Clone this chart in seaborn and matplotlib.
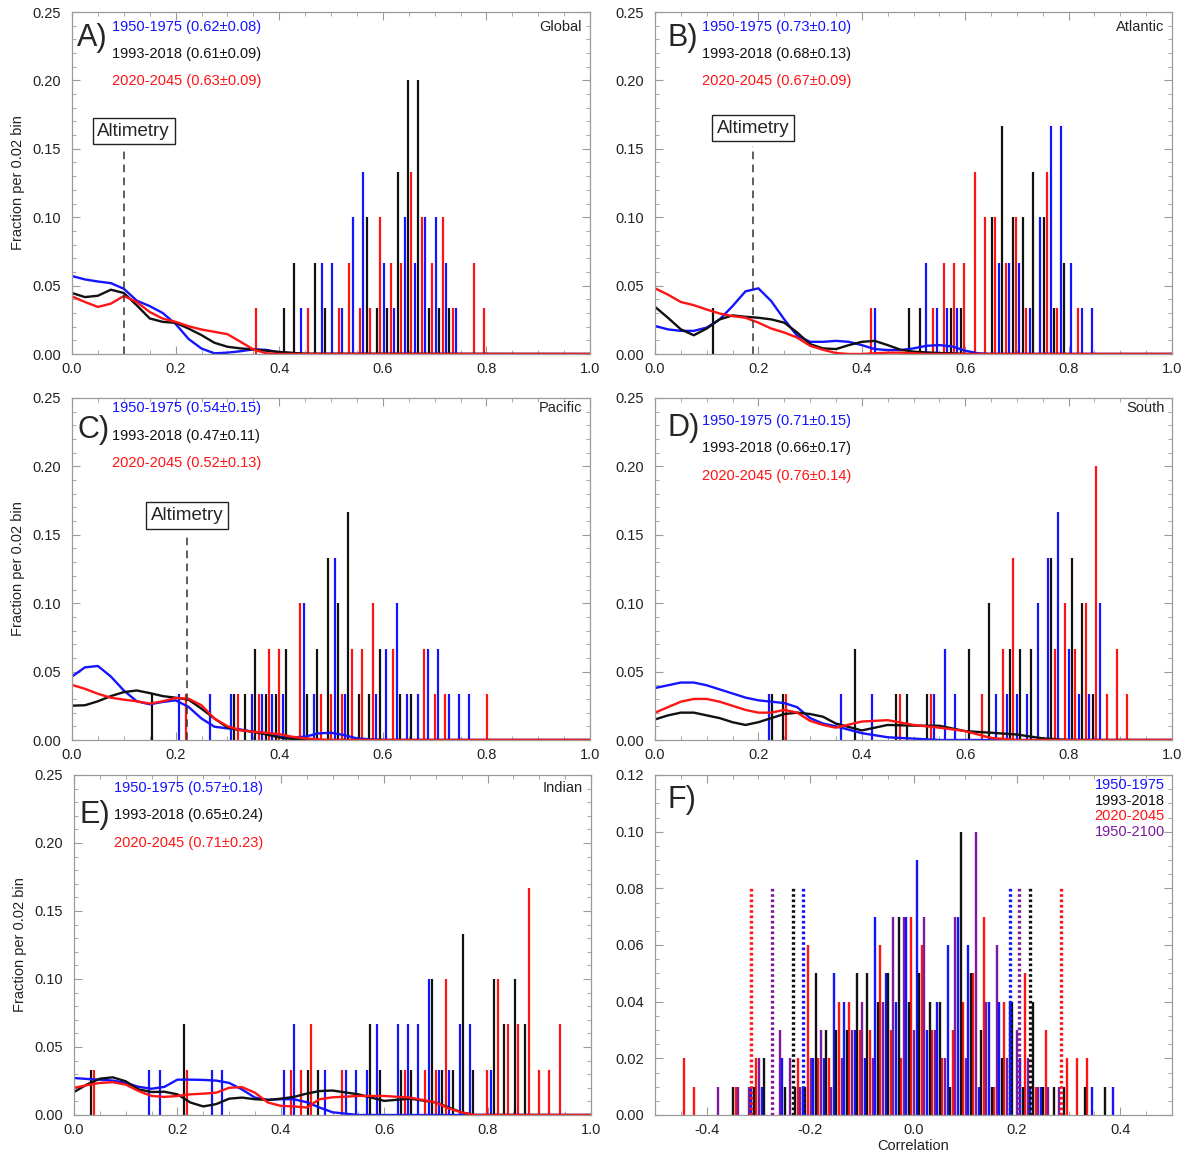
import matplotlib
matplotlib.use("Agg")
import matplotlib.pyplot as plt
from matplotlib.ticker import MultipleLocator
import seaborn as sb

sb.set_style("ticks")
plt.rcParams['font.family'] = ['Liberation Sans', 'DejaVu Sans']

N_MODELS = 30      # models per period (panels A-E)
N_F = 100          # samples in panel F
BIN = 0.02

BLUE, BLACK, RED, PURPLE = "#1414ff", "#111111", "#ff1414", "#7d1a9e"
PERIODS = ["1950-1975", "1993-2018", "2020-2045"]

# ---------------- A) Global ----------------
a_blue_bins = [0.44, 0.48, 0.50, 0.52, 0.54, 0.56, 0.60, 0.62, 0.64, 0.66, 0.68, 0.70, 0.72, 0.74]
a_blue_n = [1, 2, 2, 1, 3, 4, 2, 1, 3, 2, 3, 3, 2, 1]
a_black_bins = [0.40, 0.42, 0.46, 0.48, 0.56, 0.58, 0.60, 0.62, 0.64, 0.66, 0.68, 0.70, 0.72]
a_black_n = [1, 2, 2, 1, 3, 1, 1, 4, 6, 6, 1, 1, 1]
a_red_bins = [0.34, 0.44, 0.50, 0.52, 0.54, 0.56, 0.58, 0.60, 0.62, 0.64, 0.66, 0.68, 0.70, 0.72, 0.76, 0.78]
a_red_n = [1, 1, 1, 2, 1, 1, 3, 2, 2, 4, 3, 2, 3, 1, 2, 1]
a_curve_x = [0, 0.025, 0.05, 0.075, 0.1, 0.125, 0.15, 0.175, 0.2, 0.225, 0.25, 0.275, 0.3,
             0.325, 0.35, 0.375, 0.4, 0.45, 1.0]
a_curve_blue = [0.057, 0.0545, 0.053, 0.0518, 0.0477, 0.039, 0.035, 0.030, 0.022, 0.011, 0.004,
                0.0005, 0.001, 0.002, 0.0034, 0.003, 0.0012, 0.0, 0.0]
a_curve_black = [0.0446, 0.0416, 0.0426, 0.047, 0.0446, 0.0356, 0.026, 0.0235, 0.0228, 0.0186,
                 0.0138, 0.0082, 0.0053, 0.0041, 0.0034, 0.0024, 0.0015, 0.0002, 0.0]
a_curve_red = [0.0421, 0.038, 0.0344, 0.0368, 0.0424, 0.038, 0.0307, 0.0259, 0.0235, 0.0203,
               0.0179, 0.0162, 0.0145, 0.009, 0.0034, 0.0005, 0.0, 0.0, 0.0]
a_stats = ["(0.62±0.08)", "(0.61±0.09)", "(0.63±0.09)"]

# ---------------- B) Atlantic ----------------
b_blue_bins = [0.42, 0.52, 0.54, 0.56, 0.58, 0.66, 0.68, 0.70, 0.72, 0.74, 0.76, 0.78, 0.80, 0.82, 0.84]
b_blue_n = [1, 2, 1, 1, 1, 2, 2, 2, 1, 3, 5, 5, 2, 1, 1]
b_black_bins = [0.10, 0.48, 0.50, 0.56, 0.58, 0.64, 0.66, 0.68, 0.70, 0.72, 0.74, 0.76, 0.78]
b_black_n = [1, 1, 1, 1, 1, 3, 5, 3, 3, 4, 3, 1, 2]
b_red_bins = [0.40, 0.52, 0.54, 0.56, 0.58, 0.60, 0.62, 0.64, 0.66, 0.68, 0.70, 0.74, 0.76, 0.80]
b_red_n = [1, 1, 2, 2, 2, 4, 3, 3, 2, 3, 1, 4, 1, 1]
b_curve_x = [0, 0.025, 0.05, 0.075, 0.1, 0.125, 0.15, 0.175, 0.2, 0.225, 0.25, 0.275, 0.3,
             0.325, 0.35, 0.375, 0.4, 0.425, 0.45, 0.475, 0.5, 0.525, 0.55, 0.575, 0.6,
             0.625, 0.65, 1.0]
b_curve_blue = [0.0205, 0.018, 0.0169, 0.0169, 0.0193, 0.0253, 0.035, 0.0458, 0.048, 0.0386,
                0.0253, 0.0133, 0.0089, 0.0089, 0.0096, 0.0089, 0.0065, 0.0036, 0.0029, 0.0029,
                0.0041, 0.006, 0.0065, 0.0055, 0.0024, 0.0005, 0.0, 0.0]
b_curve_black = [0.0345, 0.0265, 0.018, 0.0137, 0.0186, 0.0253, 0.0282, 0.0272, 0.0265, 0.0253,
                 0.0229, 0.0157, 0.0072, 0.0041, 0.0036, 0.0065, 0.0089, 0.0096, 0.0065, 0.0031,
                 0.0017, 0.0012, 0.0007, 0.0005, 0.0, 0.0, 0.0, 0.0]
b_curve_red = [0.048, 0.0434, 0.038, 0.0357, 0.0325, 0.0296, 0.0277, 0.0265, 0.0229, 0.0186,
               0.0157, 0.012, 0.006, 0.0031, 0.0007, 0.0, 0.0, 0.0005, 0.001, 0.001,
               0.0005, 0.0, 0.0, 0.0, 0.0, 0.0, 0.0, 0.0]
b_stats = ["(0.73±0.10)", "(0.68±0.13)", "(0.67±0.09)"]

# ---------------- C) Pacific ----------------
c_blue_bins = [0.20, 0.26, 0.30, 0.34, 0.36, 0.38, 0.40, 0.44, 0.46, 0.50, 0.52, 0.58, 0.60,
               0.62, 0.64, 0.66, 0.68, 0.70, 0.72, 0.74, 0.76]
c_blue_n = [1, 1, 1, 1, 1, 1, 1, 3, 1, 4, 1, 1, 2, 3, 1, 1, 2, 2, 1, 1, 1]
c_black_bins = [0.14, 0.30, 0.32, 0.34, 0.36, 0.38, 0.40, 0.44, 0.46, 0.48, 0.50, 0.52, 0.54,
                0.56, 0.58, 0.62, 0.64]
c_black_n = [1, 1, 1, 2, 1, 1, 2, 1, 2, 4, 3, 5, 1, 1, 2, 1, 1]
c_red_bins = [0.20, 0.30, 0.34, 0.36, 0.38, 0.42, 0.46, 0.48, 0.50, 0.52, 0.54, 0.56, 0.60,
              0.66, 0.68, 0.70, 0.78]
c_red_n = [1, 1, 1, 2, 2, 3, 1, 1, 1, 2, 2, 3, 2, 2, 1, 1, 1]
c_curve_x = [0, 0.025, 0.05, 0.075, 0.1, 0.125, 0.15, 0.175, 0.2, 0.225, 0.25, 0.275, 0.3,
             0.325, 0.35, 0.375, 0.4, 0.425, 0.45, 0.475, 0.5, 0.525, 0.55, 0.575, 0.6, 1.0]
c_curve_blue = [0.0464, 0.0531, 0.0541, 0.0464, 0.0362, 0.0283, 0.0261, 0.0278, 0.029, 0.0242,
                0.0157, 0.0097, 0.0085, 0.0077, 0.006, 0.0048, 0.0024, 0.0019, 0.0024, 0.0048,
                0.0053, 0.0036, 0.0012, 0.0005, 0.0, 0.0]
c_curve_black = [0.0251, 0.0254, 0.0283, 0.0321, 0.035, 0.0362, 0.0343, 0.0321, 0.0309, 0.0295,
                 0.0229, 0.0157, 0.0092, 0.0072, 0.006, 0.0041, 0.0019, 0.0007, 0.0005, 0.0,
                 0.0, 0.0, 0.0, 0.0, 0.0, 0.0]
c_curve_red = [0.0403, 0.0374, 0.0338, 0.0309, 0.0295, 0.0283, 0.0266, 0.0283, 0.0307, 0.0302,
               0.0254, 0.0157, 0.0101, 0.0072, 0.006, 0.0053, 0.0043, 0.0024, 0.0012, 0.0005,
               0.0, 0.0, 0.0, 0.0, 0.0, 0.0]
c_stats = ["(0.54±0.15)", "(0.47±0.11)", "(0.52±0.13)"]

# ---------------- D) South ----------------
d_blue_bins = [0.22, 0.36, 0.42, 0.54, 0.56, 0.58, 0.66, 0.68, 0.70, 0.72, 0.74, 0.76, 0.78,
               0.80, 0.82, 0.84, 0.86]
d_blue_n = [1, 1, 1, 1, 2, 1, 1, 1, 1, 1, 3, 4, 5, 2, 1, 1, 3]
d_black_bins = [0.22, 0.24, 0.38, 0.46, 0.48, 0.52, 0.60, 0.64, 0.68, 0.70, 0.72, 0.76, 0.80,
                0.82, 0.84]
d_black_n = [1, 1, 2, 1, 1, 1, 2, 3, 2, 2, 2, 4, 4, 3, 1]
d_red_bins = [0.24, 0.46, 0.52, 0.62, 0.66, 0.68, 0.76, 0.78, 0.80, 0.82, 0.84, 0.86, 0.88, 0.90]
d_red_n = [1, 1, 1, 1, 2, 4, 2, 3, 2, 3, 6, 1, 2, 1]
d_curve_x = [0, 0.025, 0.05, 0.075, 0.1, 0.125, 0.15, 0.175, 0.2, 0.225, 0.25, 0.275, 0.3,
             0.325, 0.35, 0.4, 0.45, 0.5, 0.55, 0.6, 0.65, 0.7, 0.75, 0.8, 1.0]
d_curve_blue = [0.038, 0.040, 0.042, 0.042, 0.040, 0.037, 0.034, 0.031, 0.029, 0.028, 0.027,
                0.024, 0.016, 0.012, 0.010, 0.005, 0.002, 0.001, 0, 0, 0, 0, 0, 0, 0]
d_curve_black = [0.015, 0.018, 0.020, 0.020, 0.018, 0.016, 0.013, 0.011, 0.013, 0.016, 0.019,
                 0.020, 0.019, 0.017, 0.012, 0.007, 0.011, 0.0105, 0.0104, 0.0065, 0.0053,
                 0.004, 0.0012, 0.0, 0.0]
d_curve_red = [0.020, 0.024, 0.028, 0.030, 0.030, 0.028, 0.025, 0.022, 0.020, 0.020, 0.022,
               0.020, 0.014, 0.011, 0.009, 0.0135, 0.0145, 0.011, 0.009, 0.0065, 0.0015,
               0, 0, 0, 0]
d_stats = ["(0.71±0.15)", "(0.66±0.17)", "(0.76±0.14)"]

# ---------------- E) Indian ----------------
e_blue_bins = [0.14, 0.16, 0.26, 0.28, 0.40, 0.42, 0.48, 0.52, 0.54, 0.56, 0.58, 0.62, 0.64,
               0.66, 0.68, 0.70, 0.72, 0.74, 0.76, 0.80]
e_blue_n = [1, 1, 1, 1, 1, 2, 1, 1, 1, 1, 2, 2, 2, 2, 3, 1, 1, 2, 2, 1]
e_black_bins = [0.02, 0.20, 0.44, 0.46, 0.56, 0.58, 0.62, 0.64, 0.68, 0.70, 0.72, 0.74, 0.76,
                0.80, 0.82, 0.84, 0.86]
e_black_n = [1, 2, 1, 1, 2, 1, 1, 1, 3, 1, 1, 4, 1, 3, 2, 3, 2]
e_red_bins = [0.02, 0.20, 0.40, 0.42, 0.44, 0.50, 0.62, 0.66, 0.68, 0.70, 0.78, 0.80, 0.82,
              0.84, 0.86, 0.88, 0.90, 0.92]
e_red_n = [1, 1, 1, 1, 2, 1, 1, 1, 1, 3, 1, 3, 2, 2, 5, 1, 1, 2]
e_curve_x = [0, 0.025, 0.05, 0.075, 0.1, 0.125, 0.15, 0.175, 0.2, 0.225, 0.25, 0.275, 0.3,
             0.325, 0.35, 0.375, 0.4, 0.425, 0.45, 0.475, 0.5, 0.55, 0.6, 0.65, 0.7, 0.725,
             0.75, 0.775, 1.0]
e_curve_blue = [0.0272, 0.0265, 0.026, 0.0253, 0.0236, 0.0207, 0.0193, 0.0207, 0.026, 0.026,
                0.0258, 0.0253, 0.0236, 0.0188, 0.0128, 0.0111, 0.0116, 0.0116, 0.0094, 0.0055,
                0.002, 0, 0, 0, 0, 0, 0, 0, 0]
e_curve_black = [0.0169, 0.0224, 0.0267, 0.0277, 0.0248, 0.0188, 0.0169, 0.0171, 0.0152, 0.0092,
                 0.0063, 0.008, 0.012, 0.0128, 0.0116, 0.0111, 0.012, 0.0133, 0.0157, 0.0176,
                 0.018, 0.0152, 0.0104, 0.012, 0.0092, 0.0055, 0.0019, 0.0, 0.0]
e_curve_red = [0.02, 0.0219, 0.0236, 0.0241, 0.0224, 0.0176, 0.014, 0.0133, 0.014, 0.0152,
               0.0157, 0.0164, 0.02, 0.0205, 0.0164, 0.0092, 0.0067, 0.0063, 0.0055, 0.0116,
               0.013, 0.014, 0.014, 0.0128, 0.0092, 0.0048, 0.0019, 0.0, 0.0]
e_stats = ["(0.57±0.18)", "(0.65±0.24)", "(0.71±0.23)"]

# ---------------- F) correlation ----------------
f_blue_bins = [-0.32, -0.30, -0.26, -0.22, -0.20, -0.18, -0.16, -0.14, -0.12, -0.10, -0.08, -0.06,
               -0.04, -0.02, 0.00, 0.02, 0.04, 0.06, 0.08, 0.10, 0.12, 0.14, 0.16, 0.18, 0.20,
               0.22, 0.24, 0.34, 0.38]
f_blue_n = [1, 1, 2, 1, 2, 2, 5, 4, 3, 2, 7, 5, 4, 7, 9, 3, 4, 6, 7, 6, 1, 4, 4, 4, 2, 1, 1, 1, 1]
f_black_bins = [-0.36, -0.32, -0.30, -0.26, -0.24, -0.22, -0.20, -0.18, -0.16, -0.14, -0.12,
                -0.10, -0.08, -0.06, -0.04, -0.02, 0.00, 0.02, 0.04, 0.06, 0.08, 0.10, 0.12,
                0.14, 0.16, 0.18, 0.20, 0.22, 0.24, 0.26, 0.28, 0.32, 0.36]
f_black_n = [1, 1, 2, 1, 1, 1, 5, 3, 3, 3, 5, 5, 4, 5, 7, 4, 5, 4, 4, 1, 10, 5, 3, 1, 2, 4, 1,
             4, 1, 1, 1, 1, 1]
f_red_bins = [-0.44, -0.42, -0.34, -0.30, -0.22, -0.20, -0.18, -0.16, -0.14, -0.12, -0.10, -0.08,
              -0.06, -0.04, -0.02, 0.00, 0.02, 0.04, 0.06, 0.08, 0.10, 0.12, 0.14, 0.16, 0.18,
              0.22, 0.24, 0.26, 0.30, 0.32, 0.34]
f_red_n = [2, 1, 1, 2, 2, 6, 2, 2, 4, 4, 3, 3, 6, 3, 2, 7, 6, 3, 2, 3, 4, 5, 7, 1, 4, 5, 1, 3,
           2, 2, 2]
f_purple_bins = [-0.38, -0.34, -0.32, -0.30, -0.26, -0.24, -0.22, -0.20, -0.18, -0.16, -0.14,
                 -0.12, -0.10, -0.08, -0.06, -0.04, -0.02, 0.00, 0.02, 0.04, 0.06, 0.08, 0.10,
                 0.12, 0.14, 0.16, 0.18, 0.20, 0.22, 0.24, 0.26, 0.28]
f_purple_n = [1, 1, 1, 2, 3, 2, 1, 2, 3, 1, 2, 3, 4, 2, 4, 7, 7, 3, 7, 3, 2, 7, 2, 10, 4, 6, 2,
              3, 2, 1, 1, 1]
# dotted range markers (lower, upper)
f_blue_range = [-0.214, 0.186]
f_black_range = [-0.234, 0.226]
f_red_range = [-0.314, 0.285]
f_purple_range = [-0.273, 0.205]
f_range_height = 0.08

# ---------------- layout ----------------
fig = plt.figure(figsize=(11.89, 11.63), dpi=100)
W, H = 1189.0, 1163.0


def rect(x0, x1, y0, y1):
    return [x0 / W, 1 - y1 / H, (x1 - x0) / W, (y1 - y0) / H]


ax_a = fig.add_axes(rect(72, 590, 12, 354))
ax_b = fig.add_axes(rect(655, 1172, 12, 354))
ax_c = fig.add_axes(rect(72, 590, 398, 740))
ax_d = fig.add_axes(rect(655, 1172, 398, 740))
ax_e = fig.add_axes(rect(74, 591, 775, 1115))
ax_f = fig.add_axes(rect(655, 1172, 775, 1115))

TXT = 10.5


def style_axes(ax):
    for s in ax.spines.values():
        s.set_color("#9a9a9a")
        s.set_linewidth(0.9)
    ax.tick_params(which="both", direction="in", top=True, right=True,
                   color="#9a9a9a", labelcolor="#222222", labelsize=10.5)
    ax.tick_params(axis="y", pad=8)
    ax.tick_params(axis="x", pad=6)
    ax.tick_params(which="major", length=6)
    ax.tick_params(which="minor", length=3)


def draw_hist(ax, series, shift, n_total):
    # three periods side by side in each 0.02 bin
    for k, (bins, counts, color) in enumerate(series):
        xs = [b + shift + k * BIN / 3 for b in bins]
        ax.vlines(xs, 0, [c / n_total for c in counts], colors=color, lw=1.6)


def draw_panel(ax, letter, region, series, curves, stats, shift, text_y, letter_y,
               region_y=None, alt=None):
    draw_hist(ax, series, shift, N_MODELS)
    cx = curves[0]
    for cy, color in zip(curves[1:], [BLUE, BLACK, RED]):
        sb.lineplot(x=cx, y=cy, color=color, lw=1.7, ax=ax, estimator=None, sort=False)
    ax.set_xlim(0, 1.0)
    ax.set_ylim(0, 0.25)
    ax.xaxis.set_major_locator(MultipleLocator(0.2))
    ax.xaxis.set_minor_locator(MultipleLocator(0.05))
    ax.yaxis.set_major_locator(MultipleLocator(0.05))
    ax.yaxis.set_minor_locator(MultipleLocator(0.01))
    ax.xaxis.set_major_formatter(plt.FormatStrFormatter("%.1f"))
    ax.yaxis.set_major_formatter(plt.FormatStrFormatter("%.2f"))
    ax.set_xlabel("")
    ax.set_ylabel("")
    style_axes(ax)
    left_col = letter in ("A)", "C)", "E)")
    tx = 0.077 if left_col else 0.091
    lx = 0.010 if left_col else 0.024
    ax.text(lx, letter_y, letter, transform=ax.transAxes, fontsize=22, va="center", ha="left")
    for t, p, s, color in zip(text_y, PERIODS, stats, [BLUE, BLACK, RED]):
        ax.text(tx, t, f"{p} {s}", transform=ax.transAxes, fontsize=TXT, color=color,
                va="center", ha="left")
    ry = text_y[0] if region_y is None else region_y
    ax.text(0.985, ry, region, transform=ax.transAxes, fontsize=TXT, va="center",
            ha="right", color="#222222")
    if alt is not None:
        x_line, top, x_box, y_box = alt
        ax.vlines(x_line, 0, top, colors="#333333", lw=1.1, linestyles=(0, (5, 3.5)))
        ax.text(x_box, y_box, "Altimetry", fontsize=13.5, ha="center", va="center",
                bbox=dict(boxstyle="square,pad=0.25", fc="white", ec="#222222", lw=1.0))


draw_panel(ax_a, "A)", "Global",
           [(a_blue_bins, a_blue_n, BLUE), (a_black_bins, a_black_n, BLACK), (a_red_bins, a_red_n, RED)],
           [a_curve_x, a_curve_blue, a_curve_black, a_curve_red], a_stats, 0.002,
           [0.956, 0.876, 0.797], 0.925, alt=(0.10, 0.150, 0.119, 0.163))
draw_panel(ax_b, "B)", "Atlantic",
           [(b_blue_bins, b_blue_n, BLUE), (b_black_bins, b_black_n, BLACK), (b_red_bins, b_red_n, RED)],
           [b_curve_x, b_curve_blue, b_curve_black, b_curve_red], b_stats, 0.005,
           [0.956, 0.876, 0.797], 0.925, alt=(0.19, 0.152, 0.19, 0.165))
draw_panel(ax_c, "C)", "Pacific",
           [(c_blue_bins, c_blue_n, BLUE), (c_black_bins, c_black_n, BLACK), (c_red_bins, c_red_n, RED)],
           [c_curve_x, c_curve_blue, c_curve_black, c_curve_red], c_stats, 0.007,
           [0.970, 0.889, 0.810], 0.906, alt=(0.222, 0.151, 0.222, 0.164))
draw_panel(ax_d, "D)", "South",
           [(d_blue_bins, d_blue_n, BLUE), (d_black_bins, d_black_n, BLACK), (d_red_bins, d_red_n, RED)],
           [d_curve_x, d_curve_blue, d_curve_black, d_curve_red], d_stats, 0.0,
           [0.932, 0.853, 0.772], 0.912, region_y=0.97)
draw_panel(ax_e, "E)", "Indian",
           [(e_blue_bins, e_blue_n, BLUE), (e_black_bins, e_black_n, BLACK), (e_red_bins, e_red_n, RED)],
           [e_curve_x, e_curve_blue, e_curve_black, e_curve_red], e_stats, 0.006,
           [0.962, 0.882, 0.800], 0.882)

for ax in (ax_a, ax_c, ax_e):
    ax.set_ylabel("Fraction per 0.02 bin", fontsize=TXT, color="#222222", labelpad=5)

# ---------------- panel F ----------------
f_series = [(f_red_bins, f_red_n, RED, -0.004), (f_purple_bins, f_purple_n, PURPLE, 0.001),
            (f_blue_bins, f_blue_n, BLUE, 0.006), (f_black_bins, f_black_n, BLACK, 0.011)]
for bins, counts, color, off in f_series:
    ax_f.vlines([b + off for b in bins], 0, [c / N_F for c in counts], colors=color, lw=1.7)
for rng, color in [(f_red_range, RED), (f_purple_range, PURPLE), (f_black_range, BLACK),
                   (f_blue_range, BLUE)]:
    ax_f.vlines(rng, 0, f_range_height, colors=color, lw=2.4, linestyles=(0, (0.8, 0.8)))
ax_f.set_xlim(-0.5, 0.5)
ax_f.set_ylim(0, 0.12)
ax_f.xaxis.set_major_locator(MultipleLocator(0.2))
ax_f.xaxis.set_minor_locator(MultipleLocator(0.05))
ax_f.yaxis.set_major_locator(MultipleLocator(0.02))
ax_f.yaxis.set_minor_locator(MultipleLocator(0.005))
ax_f.xaxis.set_major_formatter(plt.FormatStrFormatter("%.1f"))
ax_f.yaxis.set_major_formatter(plt.FormatStrFormatter("%.2f"))
style_axes(ax_f)
ax_f.set_xlabel("Correlation", fontsize=TXT, color="#222222", labelpad=1)
ax_f.text(0.024, 0.926, "F)", transform=ax_f.transAxes, fontsize=22, va="center", ha="left")
for t, label, color in zip([0.970, 0.924, 0.878, 0.832],
                           ["1950-1975", "1993-2018", "2020-2045", "1950-2100"],
                           [BLUE, BLACK, RED, PURPLE]):
    ax_f.text(0.986, t, label, transform=ax_f.transAxes, fontsize=TXT, color=color,
              va="center", ha="right")

fig.savefig("out.png", dpi=100)
